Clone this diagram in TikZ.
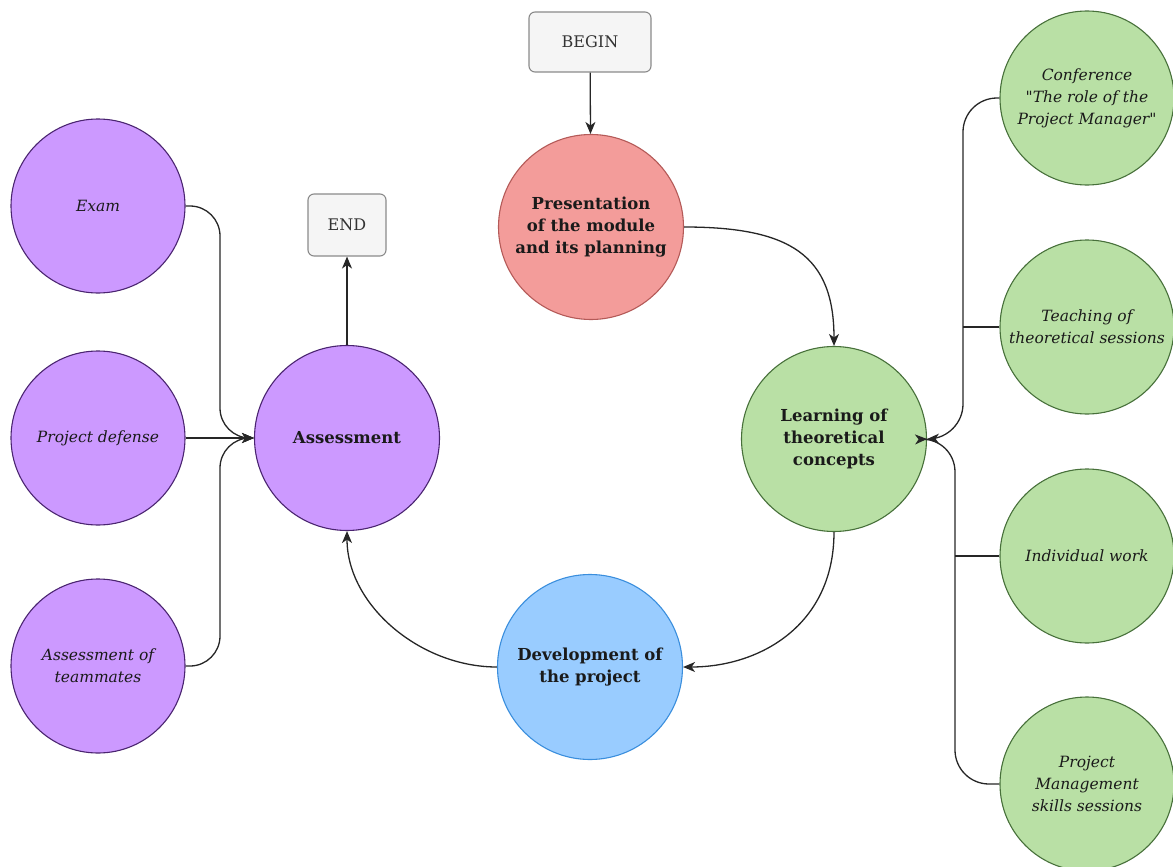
\documentclass[tikz,border=0pt]{standalone}
\usepackage{fontspec}
\setmainfont{DejaVu Serif}[Ligatures=TeXOff]
\usetikzlibrary{arrows.meta}
\definecolor{pfill}{HTML}{CC99FF}
\definecolor{pdraw}{HTML}{4A2470}
\definecolor{rfill}{HTML}{F39C9A}
\definecolor{rdraw}{HTML}{B45A58}
\definecolor{bfill}{HTML}{99CCFF}
\definecolor{bdraw}{HTML}{3A8EDD}
\definecolor{gfill}{HTML}{B9E0A5}
\definecolor{gdraw}{HTML}{47703A}
\definecolor{boxfill}{HTML}{F5F5F5}
\definecolor{boxdraw}{HTML}{8A8A8A}
\definecolor{txt}{HTML}{1A1A1A}
\tikzset{
  big/.style={circle, minimum size=185pt, inner sep=0pt, line width=1.1pt, align=center, text=txt, font=\fontsize{16.5}{22}\selectfont\bfseries},
  small/.style={circle, minimum size=174pt, inner sep=0pt, line width=1.1pt, align=center, text=txt, font=\fontsize{15.5}{22}\selectfont\itshape},
  purp/.style={fill=pfill, draw=pdraw},
  redc/.style={fill=rfill, draw=rdraw},
  bluec/.style={fill=bfill, draw=bdraw},
  grn/.style={fill=gfill, draw=gdraw},
  termbox/.style={rectangle, rounded corners=6pt, fill=boxfill, draw=boxdraw, line width=1.1pt, text=black!80, font=\fontsize{16}{18}\selectfont},
  arr/.style={-{Stealth[length=12pt,width=10pt,inset=3.5pt]}, line width=1.3pt, draw=black!85},
  ln/.style={line width=1.3pt, draw=black!85}
}
\begin{document}
\begin{tikzpicture}[x=1pt,y=-1pt]
\useasboundingbox (0,0) rectangle (1173,867);
% terminal boxes
\node[termbox, minimum width=122pt, minimum height=60pt] (begin) at (590,42) {BEGIN};
\node[termbox, minimum width=78pt, minimum height=62pt] (end) at (347,225) {END};
% main circles
\node[big, redc] (pres) at (591,227) {Presentation\\of the module\\and its planning};
\node[big, grn] (learn) at (834,439) {Learning of\\theoretical\\concepts};
\node[big, bluec] (dev) at (590,667) {Development of\\the project};
\node[big, purp] (assess) at (347,438) {Assessment};
% left circles
\node[small, purp] (exam) at (98,206) {Exam};
\node[small, purp] (defense) at (98,438) {Project defense};
\node[small, purp] (mates) at (98,666) {Assessment of\\teammates};
% right circles
\node[small, grn] (conf) at (1087,98) {Conference\\"The role of the\\Project Manager"};
\node[small, grn] (teach) at (1087,327) {Teaching of\\theoretical sessions};
\node[small, grn] (indiv) at (1087,556) {Individual work};
\node[small, grn] (pms) at (1087,784) {Project\\Management\\skills sessions};
% junction coordinates
\coordinate (lj) at (220,438);
\coordinate (rj) at (963,438);
\coordinate (rj2) at (955,438);
% main flow
\draw[arr] (begin) -- (pres);
\draw[arr] (pres.east) .. controls (790,227) and (834,255) .. (learn.north);
\draw[arr] (learn.south) .. controls (834,625) and (760,667) .. (dev.east);
\draw[arr] (dev.west) .. controls (420,667) and (347,605) .. (assess.south);
\draw[arr] (assess) -- (end);
% left inputs
\draw[arr, rounded corners=30pt] (exam.east) -| (lj) -- (assess.west);
\draw[arr] (defense.east) -- (assess.west);
\draw[arr, rounded corners=30pt] (mates.east) -| (lj) -- (assess.west);
% right inputs
\draw[arr, rounded corners=34pt] (conf.west) -| (rj) -- (learn.east);
\draw[ln] (teach.west) -- (teach.west -| rj);
\draw[arr, rounded corners=34pt] (pms.west) -| (rj2) -- (learn.east);
\draw[ln] (indiv.west) -- (indiv.west -| rj2);
\end{tikzpicture}
\end{document}
